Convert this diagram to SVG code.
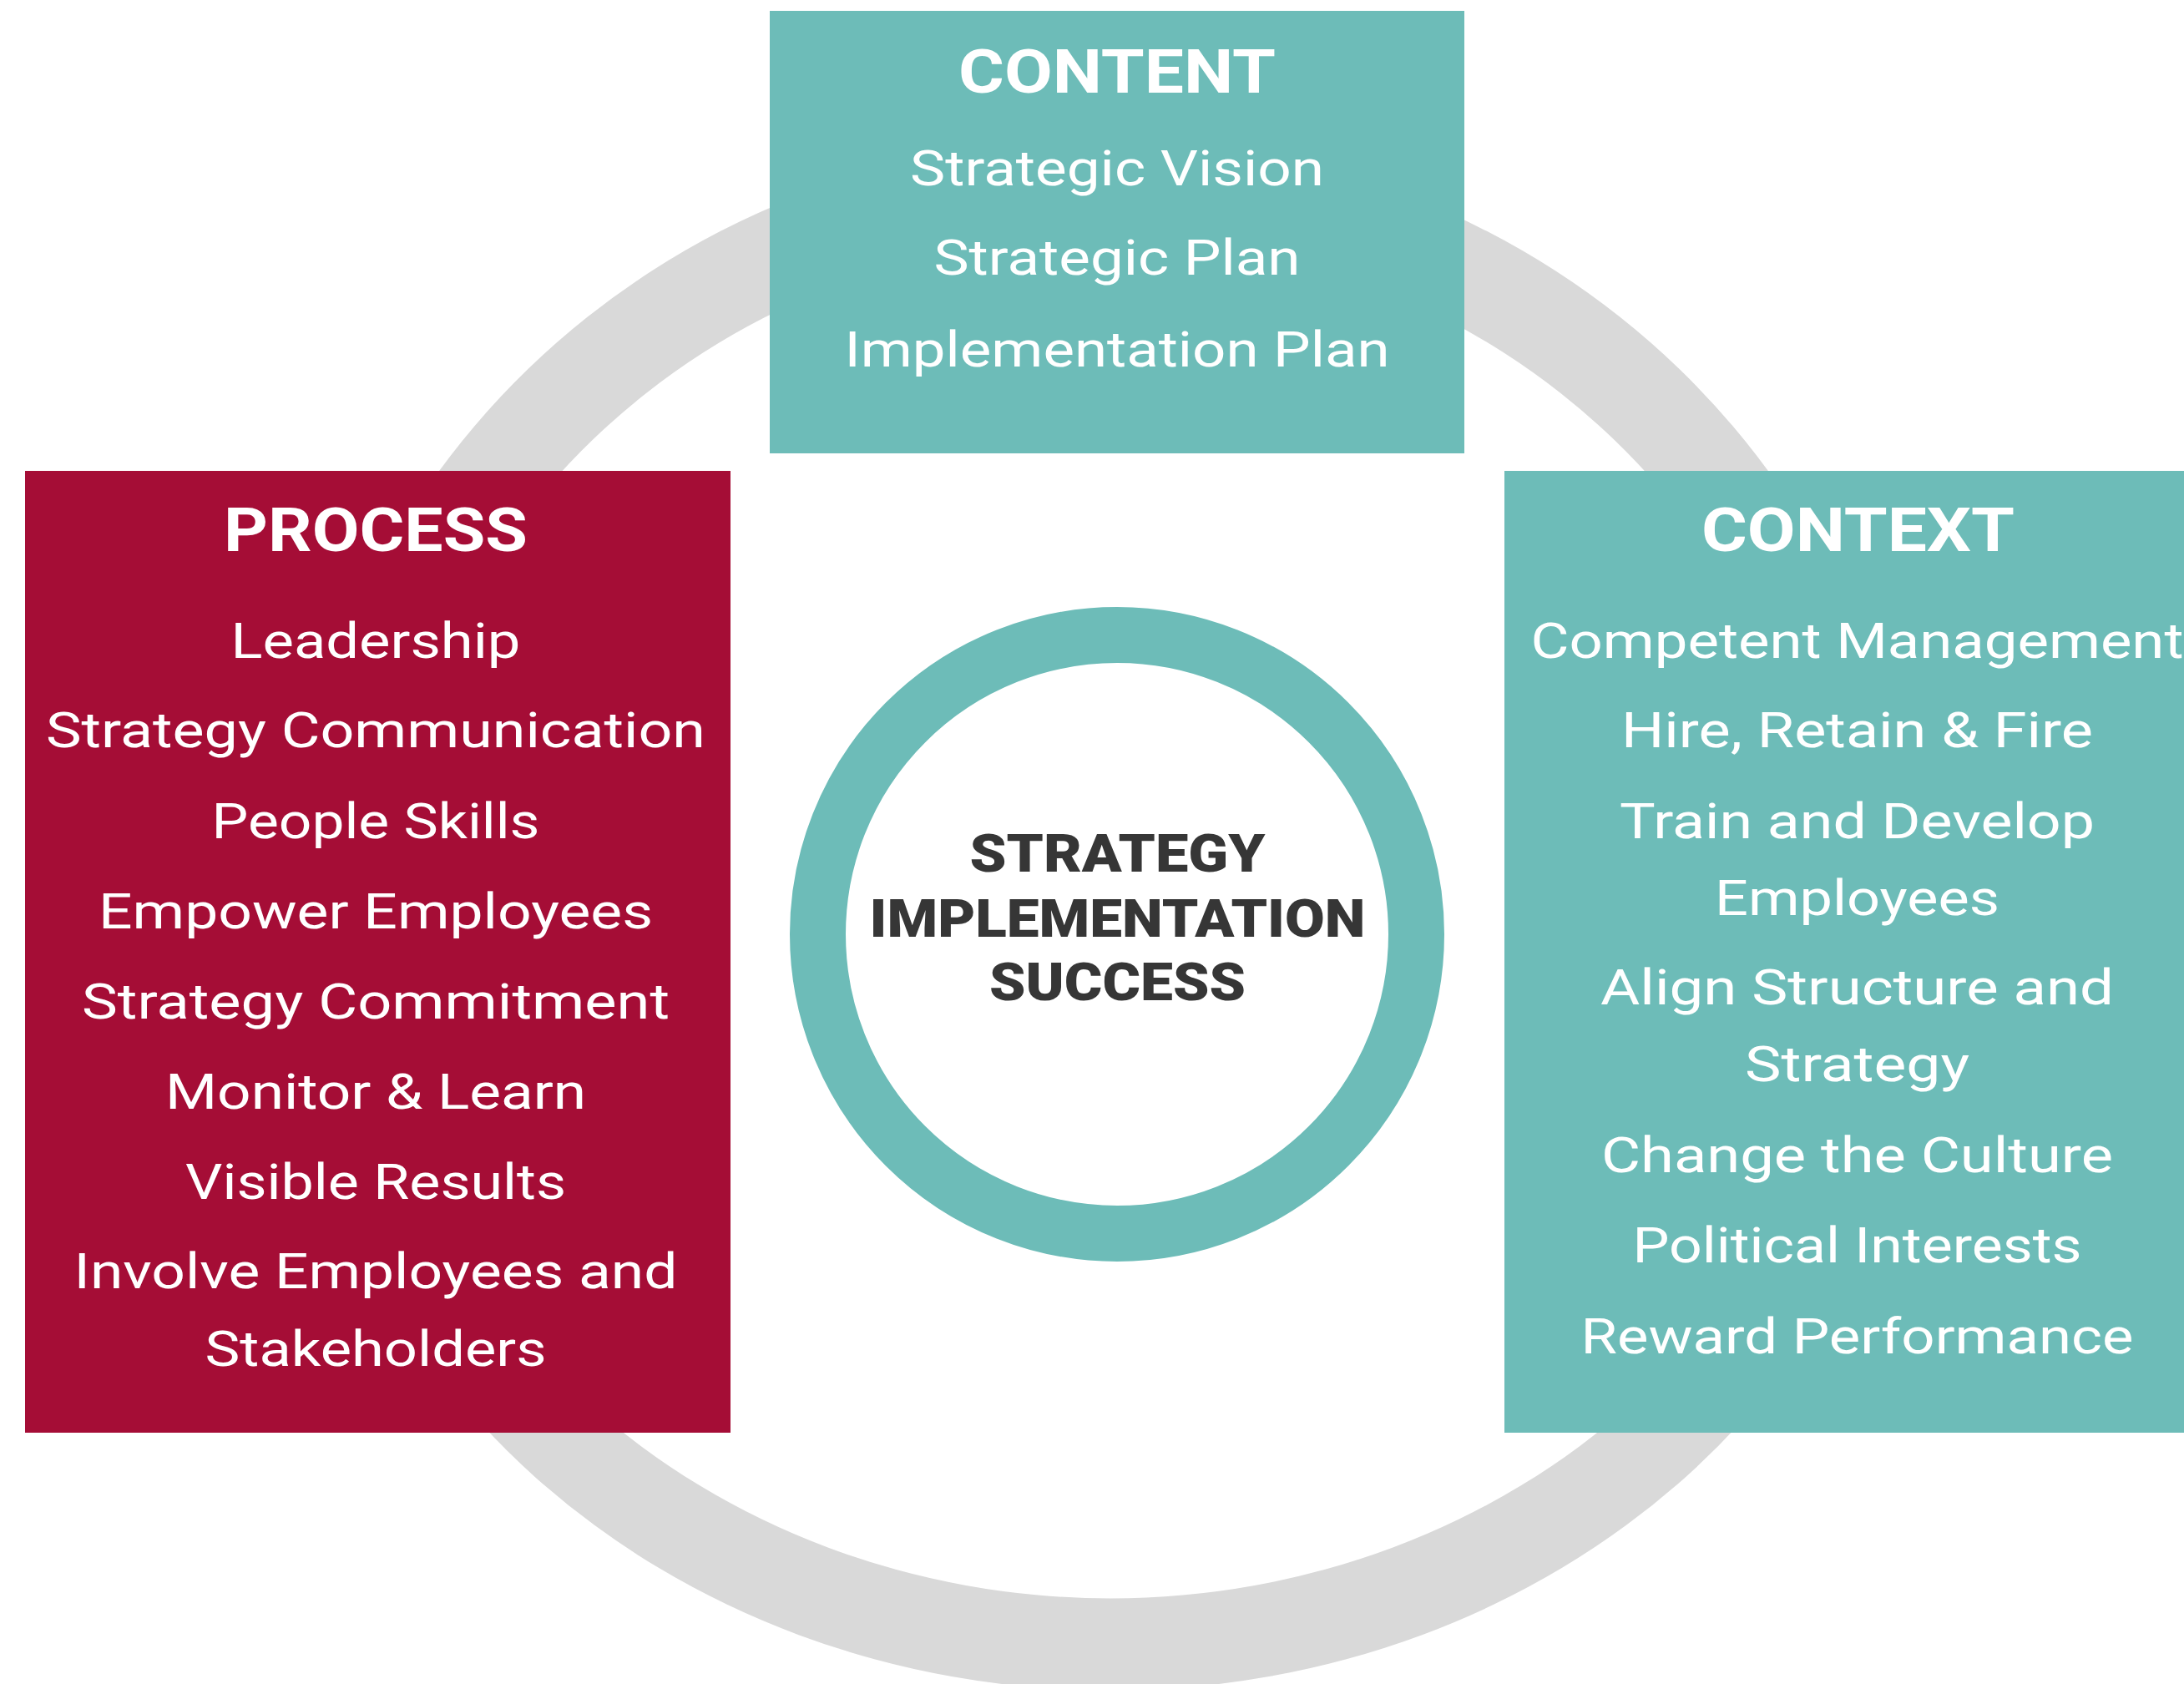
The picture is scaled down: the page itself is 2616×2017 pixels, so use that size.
<svg xmlns="http://www.w3.org/2000/svg" width="2616" height="2017" viewBox="0 0 2616 2017">
<style>
.bg{fill:#ffffff}
.ring{fill:#d9d9d9;fill-rule:evenodd}
.teal{fill:#6dbcb8}
.crimson{fill:#a50d36}
.hub{fill:#ffffff;stroke:#6dbcb8;stroke-width:67}
.head{font-family:"Roboto","Lato","Liberation Sans",sans-serif;font-weight:700;font-size:72px;fill:#ffffff;text-anchor:middle}
.item{font-family:"Roboto","Lato","Liberation Sans",sans-serif;font-weight:400;font-size:60px;fill:#ffffff;text-anchor:middle}
.core{font-family:"Roboto","Lato","Liberation Sans",sans-serif;font-weight:900;font-size:63px;fill:#363636;text-anchor:middle}
</style>
<rect class="bg" x="0" y="0" width="2616" height="2017"/>
<g id="cycle-ring">
<path class="ring" d="M347.5,1107 A974.5,941 0 0 1 2296.5,1107 L2304,1152.8 A974,872 0 0 1 356,1152.8 Z M458.3,1111.4 A863.4,828.5 0 0 1 2185.1,1111.4 L2216,1111.4 A886,803 0 0 1 444,1111.4 Z"/>
</g>
<g id="connectors"></g>
<g id="content">
<rect class="teal" x="922" y="13" width="832" height="530"/>
<text class="head" x="1338" y="111" textLength="380" lengthAdjust="spacingAndGlyphs">CONTENT</text>
<text class="item" x="1338" y="222" textLength="496" lengthAdjust="spacingAndGlyphs">Strategic Vision</text>
<text class="item" x="1338" y="329" textLength="439" lengthAdjust="spacingAndGlyphs">Strategic Plan</text>
<text class="item" x="1338" y="439" textLength="653" lengthAdjust="spacingAndGlyphs">Implementation Plan</text>
</g>
<g id="process">
<rect class="crimson" x="30" y="564" width="845" height="1152"/>
<text class="head" x="450" y="660" textLength="364" lengthAdjust="spacingAndGlyphs">PROCESS</text>
<text class="item" x="450" y="788" textLength="347" lengthAdjust="spacingAndGlyphs">Leadership</text>
<text class="item" x="450" y="895" textLength="790" lengthAdjust="spacingAndGlyphs">Strategy Communication</text>
<text class="item" x="450" y="1004" textLength="393" lengthAdjust="spacingAndGlyphs">People Skills</text>
<text class="item" x="450" y="1112" textLength="664" lengthAdjust="spacingAndGlyphs">Empower Employees</text>
<text class="item" x="450" y="1220" textLength="704" lengthAdjust="spacingAndGlyphs">Strategy Commitment</text>
<text class="item" x="450" y="1328" textLength="504" lengthAdjust="spacingAndGlyphs">Monitor &amp; Learn</text>
<text class="item" x="450" y="1436" textLength="456" lengthAdjust="spacingAndGlyphs">Visible Results</text>
<text class="item" x="450" y="1543" textLength="723" lengthAdjust="spacingAndGlyphs">Involve Employees and</text>
<text class="item" x="450" y="1636" textLength="409" lengthAdjust="spacingAndGlyphs">Stakeholders</text>
</g>
<g id="context">
<rect class="teal" x="1802" y="564" width="830" height="1152"/>
<text class="head" x="2225.5" y="660" textLength="375" lengthAdjust="spacingAndGlyphs">CONTEXT</text>
<text class="item" x="2224.5" y="788" textLength="782" lengthAdjust="spacingAndGlyphs">Competent Management</text>
<text class="item" x="2224.5" y="895" textLength="565" lengthAdjust="spacingAndGlyphs">Hire, Retain &amp; Fire</text>
<text class="item" x="2224.5" y="1004" textLength="569" lengthAdjust="spacingAndGlyphs">Train and Develop</text>
<text class="item" x="2224.5" y="1096" textLength="341" lengthAdjust="spacingAndGlyphs">Employees</text>
<text class="item" x="2224.5" y="1203" textLength="615" lengthAdjust="spacingAndGlyphs">Align Structure and</text>
<text class="item" x="2224.5" y="1295" textLength="269" lengthAdjust="spacingAndGlyphs">Strategy</text>
<text class="item" x="2224.5" y="1404" textLength="613" lengthAdjust="spacingAndGlyphs">Change the Culture</text>
<text class="item" x="2224.5" y="1512" textLength="538" lengthAdjust="spacingAndGlyphs">Political Interests</text>
<text class="item" x="2224.5" y="1621" textLength="662" lengthAdjust="spacingAndGlyphs">Reward Performance</text>
</g>
<g id="center">
<circle class="hub" cx="1338" cy="1119" r="358.5"/>
<text class="core" x="1338.5" y="1044" textLength="354" lengthAdjust="spacingAndGlyphs">STRATEGY</text>
<text class="core" x="1338.5" y="1122" textLength="594" lengthAdjust="spacingAndGlyphs">IMPLEMENTATION</text>
<text class="core" x="1338.5" y="1198" textLength="307" lengthAdjust="spacingAndGlyphs">SUCCESS</text>
</g>
</svg>
